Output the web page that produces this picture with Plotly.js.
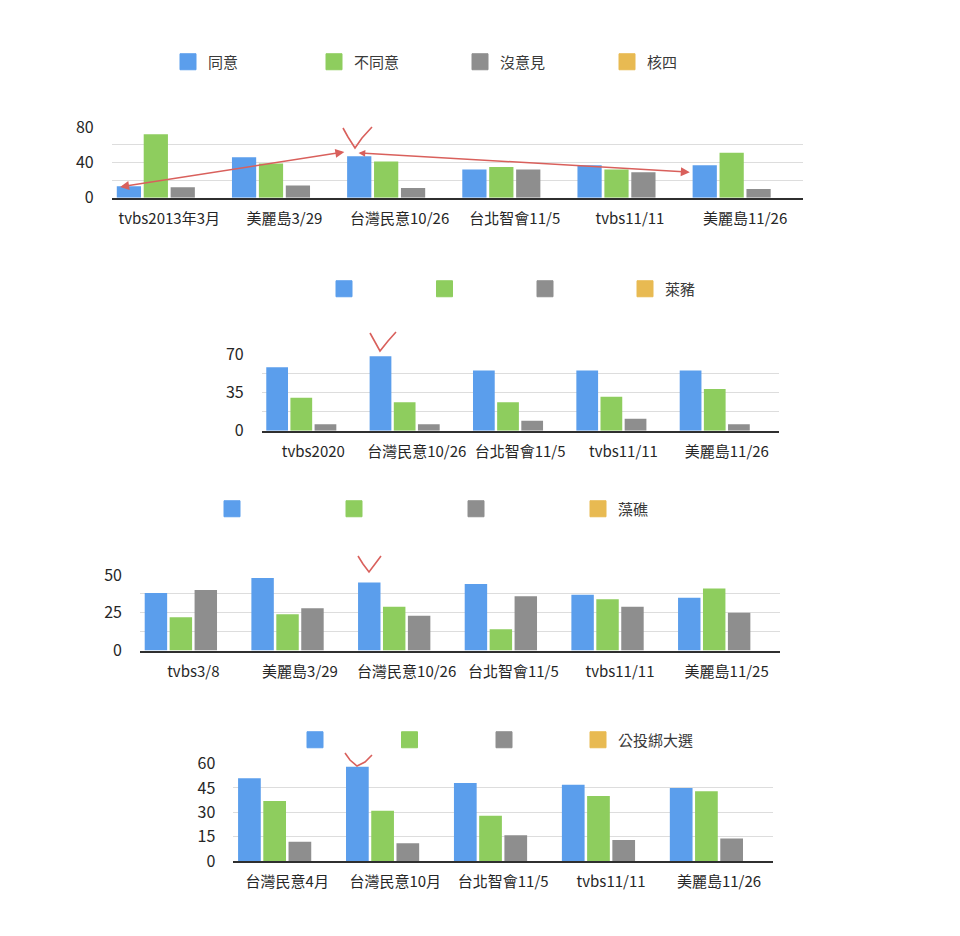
<!DOCTYPE html>
<html><head><meta charset="utf-8">
<script src="https://cdn.plot.ly/plotly-3.0.1.min.js"></script>
<style>html,body{margin:0;padding:0;background:#fff;}</style>
</head><body><div id="chart" style="width:960px;height:936px;"></div>
<script>
// ---------- Data ----------
const seriesNames = ['同意', '不同意', '沒意見'];

const cats1 = ['tvbs2013年3月', '美麗島3/29', '台灣民意10/26', '台北智會11/5', 'tvbs11/11', '美麗島11/26'];
const agree1 = [13, 46, 47, 32, 37, 37];
const disagree1 = [72, 39, 41, 35, 32, 51];
const noOpinion1 = [12, 14, 11, 32, 29, 10];
const topic1 = [0, 0, 0, 0, 0, 0];
const topicName1 = '核四';

const cats2 = ['tvbs2020', '台灣民意10/26', '台北智會11/5', 'tvbs11/11', '美麗島11/26'];
const agree2 = [58, 68, 55, 55, 55];
const disagree2 = [30, 26, 26, 31, 38];
const noOpinion2 = [6, 6, 9, 11, 6];
const topic2 = [0, 0, 0, 0, 0];
const topicName2 = '萊豬';

const cats3 = ['tvbs3/8', '美麗島3/29', '台灣民意10/26', '台北智會11/5', 'tvbs11/11', '美麗島11/25'];
const agree3 = [38, 48, 45, 44, 37, 35];
const disagree3 = [22, 24, 29, 14, 34, 41];
const noOpinion3 = [40, 28, 23, 36, 29, 25];
const topic3 = [0, 0, 0, 0, 0, 0];
const topicName3 = '藻礁';

const cats4 = ['台灣民意4月', '台灣民意10月', '台北智會11/5', 'tvbs11/11', '美麗島11/26'];
const agree4 = [51, 58, 48, 47, 45];
const disagree4 = [37, 31, 28, 40, 43];
const noOpinion4 = [12, 11, 16, 13, 14];
const topic4 = [0, 0, 0, 0, 0];
const topicName4 = '公投綁大選';

const yTicks1 = [0, 40, 80];
const yTicks2 = [0, 35, 70];
const yTicks3 = [0, 25, 50];
const yTicks4 = [0, 15, 30, 45, 60];

// ---------- Style ----------
const colors = ['#5B9EEC', '#8ECD5E', '#8E8E8E', '#E8BA52'];
const FONT = '"Noto Sans CJK TC", "Noto Sans", sans-serif';
const TXT = '#262626';
const W = 960, H = 936;
const px = x => x / W;
const py = y => 1 - y / H;

const charts = [
  {cats: cats1, vals: [agree1, disagree1, noOpinion1, topic1], names: [...seriesNames, topicName1],
   ticks: yTicks1, minor: 20, dx: [111.7, 802.7], dy: [127.3, 197.7], legY: 62, legX: 180, entry: 101, topicX: 619},
  {cats: cats2, vals: [agree2, disagree2, noOpinion2, topic2], names: [' ', ' ', ' ', topicName2],
   ticks: yTicks2, minor: 17.5, dx: [261.7, 778.5], dy: [354, 430.7], legY: 289, legX: 336, entry: 55.5, topicX: 637},
  {cats: cats3, vals: [agree3, disagree3, noOpinion3, topic3], names: [' ', ' ', ' ', topicName3],
   ticks: yTicks3, minor: 12.5, dx: [140, 780], dy: [575, 650.5], legY: 509, legX: 224, entry: 77, topicX: 590},
  {cats: cats4, vals: [agree4, disagree4, noOpinion4, topic4], names: [' ', ' ', ' ', topicName4],
   ticks: yTicks4, minor: null, dx: [233.3, 773], dy: [763.5, 861.3], legY: 740, legX: 307, entry: 49.5, topicX: 590}
];

const data = [];
const layout = {
  width: W, height: H,
  margin: {l: 0, r: 0, t: 0, b: 0},
  paper_bgcolor: '#ffffff', plot_bgcolor: '#ffffff',
  barmode: 'group', bargap: 0.065, bargroupgap: 0.1,
  font: {family: FONT, size: 15, color: TXT},
  showlegend: true,
  shapes: [], annotations: []
};

function legendBox(xPix, yPix, entry) {
  const o = {
    orientation: 'h', x: px(xPix - 12), xanchor: 'left', y: py(yPix), yanchor: 'middle',
    bgcolor: 'rgba(0,0,0,0)', borderwidth: 0,
    font: {family: FONT, size: 15, color: '#3a3a3a'},
    itemclick: false, itemdoubleclick: false
  };
  if (entry) { o.entrywidth = entry; o.entrywidthmode = 'pixels'; }
  return o;
}

charts.forEach((c, i) => {
  const n = i === 0 ? '' : String(i + 1);
  const legKey = 'legend' + n;
  const topicLegKey = 'legend' + (i + 5);
  c.vals.forEach((v, k) => {
    data.push({
      type: 'bar', x: c.cats, y: v, name: c.names[k],
      xaxis: 'x' + n, yaxis: 'y' + n, legendgroup: legKey + 's' + k,
      showlegend: false,
      marker: {color: colors[k], line: {width: 0}},
      hoverinfo: 'x+y'
    });
  });
  // legend keys (square swatches, same series)
  c.names.forEach((nm, k) => {
    data.push({
      type: 'scatter', mode: 'markers', x: [null], y: [null], name: nm,
      xaxis: 'x' + n, yaxis: 'y' + n, legend: k < 3 ? legKey : topicLegKey, legendgroup: legKey + 's' + k,
      showlegend: true,
      marker: {symbol: 'square', size: 16, color: colors[k], line: {width: 1, color: colors[k]}},
      hoverinfo: 'skip'
    });
  });
  const maxT = c.ticks[c.ticks.length - 1];
  layout['xaxis' + n] = {
    domain: [px(c.dx[0]), px(c.dx[1])], anchor: 'y' + n,
    type: 'category', showgrid: false, zeroline: false,
    showline: true, linecolor: '#2f2f2f', linewidth: 2,
    ticks: '', ticklabelstandoff: 6,
    tickfont: {family: FONT, size: 15, color: TXT},
    fixedrange: true
  };
  const yax = {
    domain: [py(c.dy[1]), py(c.dy[0])], anchor: 'x' + n,
    range: [0, maxT], tickmode: 'array', tickvals: c.ticks,
    showgrid: true, gridcolor: '#dddddd', gridwidth: 1,
    zeroline: false, showline: false, ticks: '', ticklabelstandoff: 17,
    tickfont: {family: FONT, size: 16, color: TXT},
    fixedrange: true
  };
  if (c.minor) yax.minor = {dtick: c.minor, tick0: 0, showgrid: true, gridcolor: '#dddddd', gridwidth: 1, ticks: ''};
  layout['yaxis' + n] = yax;
  layout[legKey] = legendBox(c.legX, c.legY, c.entry);
  layout[topicLegKey] = legendBox(c.topicX, c.legY, null);
});

// ---------- Hand-drawn red marks ----------
const RED = '#D9605C';
function pathFromPx(pts) {
  return pts.map((p, j) => (j ? 'L' : 'M') + px(p[0]).toFixed(5) + ',' + py(p[1]).toFixed(5)).join(' ');
}
const checks = [
  [[343, 128], [348, 137], [355, 148], [362, 138], [372, 127]],
  [[370, 333], [375, 342], [380, 351], [388, 341], [396, 332]],
  [[358, 556], [363, 564], [369, 572], [375, 564], [381, 556]],
  [[345, 753], [350, 760], [357, 766], [365, 762], [372, 755]]
];
checks.forEach(pts => layout.shapes.push({
  type: 'path', xref: 'paper', yref: 'paper', path: pathFromPx(pts),
  line: {color: RED, width: 1.6}, layer: 'above'
}));

// arrows on chart 1, anchored to category index scale
layout.annotations.push({
  xref: 'x', yref: 'y', axref: 'x', ayref: 'y',
  x: 1.52, y: agree1[2] + 5, ax: -0.44, ay: agree1[0] - 1,
  text: '', showarrow: true, arrowside: 'end+start', arrowhead: 2, startarrowhead: 2,
  arrowsize: 1.2, startarrowsize: 1.2, arrowwidth: 1.5, arrowcolor: RED, standoff: 0, startstandoff: 0
});
layout.annotations.push({
  xref: 'x', yref: 'y', axref: 'x', ayref: 'y',
  x: 4.52, y: agree1[5] - 8, ax: 1.63, ay: agree1[2] + 4,
  text: '', showarrow: true, arrowside: 'end+start', arrowhead: 2, startarrowhead: 2,
  arrowsize: 1.2, startarrowsize: 0.9, arrowwidth: 1.5, arrowcolor: RED, standoff: 0, startstandoff: 0
});

Plotly.newPlot('chart', data, layout, {displayModeBar: false, staticPlot: true});
</script>
</body></html>
